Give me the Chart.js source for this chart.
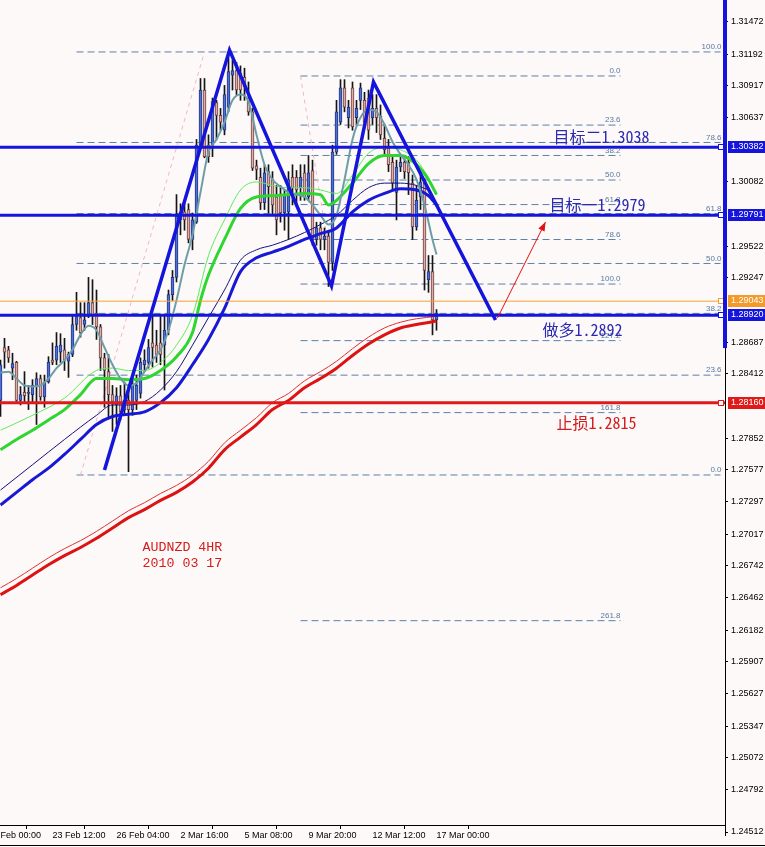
<!DOCTYPE html>
<html>
<head>
<meta charset="utf-8">
<script src="https://cdn.jsdelivr.net/npm/chart.js@4/dist/chart.umd.min.js"></script>
<style>
html,body{margin:0;padding:0;background:#fdf9f9;}
#wrap{width:765px;height:847px;position:relative;}
</style>
</head>
<body>
<div id="wrap"><canvas id="c" width="765" height="847"></canvas></div>
<script>
// ---------------- DATA ----------------
const firstBar = -1; // bar number of first candle (4H bars)
const open = [
1.2818,1.2864,1.2862,1.2846,1.2851,1.2818,1.2825,1.2824,1.2823,1.2830,
1.2837,1.2821,1.2834,1.2853,1.2853,1.2860,1.2862,1.2852,1.2858,1.2884,
1.2890,1.2884,1.2891,1.2903,1.2894,1.2882,1.2855,1.2843,1.2823,1.2814,
1.2822,1.2810,1.2818,1.2810,1.2818,1.2824,1.2849,1.2851,1.2868,1.2866,
1.2868,1.2866,1.2879,1.2910,1.2925,1.2975,1.2982,1.2984,1.2958,1.2973,
1.3040,1.3088,1.3040,1.3040,1.3077,1.3066,1.3053,1.3073,1.3101,1.3105,
1.3103,1.3099,1.3081,1.3069,1.3022,1.3012,1.2990,1.3017,1.3010,1.2995,
1.2997,1.2981,1.2982,1.3012,1.3012,1.3003,1.3016,1.2995,1.3018,1.2958,
1.2968,1.2958,1.2961,1.2938,1.3034,1.3060,1.3090,1.3064,1.3090,1.3064,
1.3079,1.3079,1.3081,1.3064,1.3072,1.3065,1.3046,1.3038,1.3025,1.2999,
1.3021,1.3025,1.3025,1.3007,1.2969,1.2995,1.3007,1.2923,1.2930,1.2888];
const high = [
1.2853,1.2872,1.2865,1.2859,1.2852,1.2830,1.2843,1.2831,1.2836,1.2842,
1.2840,1.2840,1.2856,1.2868,1.2877,1.2876,1.2872,1.2860,1.2891,1.2912,
1.2903,1.2903,1.2925,1.2923,1.2914,1.2884,1.2859,1.2858,1.2831,1.2829,
1.2831,1.2834,1.2831,1.2836,1.2840,1.2855,1.2862,1.2871,1.2892,1.2879,
1.2891,1.2892,1.2914,1.2931,1.2997,1.2989,1.2989,1.2989,1.2981,1.3045,
1.3098,1.3098,1.3049,1.3081,1.3079,1.3072,1.3092,1.3121,1.3114,1.3112,
1.3109,1.3107,1.3095,1.3072,1.3027,1.3020,1.3023,1.3023,1.3017,1.3005,
1.3005,1.3001,1.3017,1.3023,1.3018,1.3023,1.3023,1.3031,1.3027,1.2973,
1.2973,1.2968,1.2966,1.3040,1.3079,1.3097,1.3097,1.3079,1.3095,1.3079,
1.3094,1.3086,1.3088,1.3084,1.3084,1.3075,1.3058,1.3045,1.3032,1.3027,
1.3032,1.3029,1.3030,1.3014,1.3005,1.3014,1.3011,1.2944,1.2944,1.2897];
const low = [
1.2804,1.2846,1.2851,1.2836,1.2817,1.2814,1.2817,1.2810,1.2816,1.2797,
1.2818,1.2812,1.2833,1.2849,1.2849,1.2851,1.2844,1.2838,1.2856,1.2879,
1.2873,1.2879,1.2890,1.2884,1.2871,1.2844,1.2812,1.2803,1.2791,1.2797,
1.2801,1.2805,1.2756,1.2805,1.2810,1.2820,1.2843,1.2846,1.2847,1.2851,
1.2849,1.2827,1.2875,1.2905,1.2921,1.2962,1.2966,1.2955,1.2949,1.2972,
1.3038,1.3029,1.3025,1.3030,1.3045,1.3053,1.3049,1.3069,1.3088,1.3084,
1.3079,1.3079,1.3066,1.3018,1.3010,1.2984,1.2984,1.2981,1.2979,1.2962,
1.2973,1.2966,1.2958,1.2988,1.2988,1.2992,1.2992,1.2992,1.2953,1.2953,
1.2949,1.2949,1.2917,1.2931,1.3032,1.3058,1.3069,1.3055,1.3053,1.3058,
1.3071,1.3055,1.3045,1.3058,1.3051,1.3045,1.3032,1.3017,1.3001,1.2975,
1.3017,1.3011,1.2997,1.2958,1.2966,1.2984,1.2914,1.2912,1.2875,1.2879];
const close = [
1.2849,1.2860,1.2855,1.2850,1.2818,1.2823,1.2822,1.2825,1.2831,1.2837,
1.2821,1.2834,1.2851,1.2851,1.2865,1.2866,1.2853,1.2858,1.2884,1.2891,
1.2877,1.2888,1.2903,1.2892,1.2882,1.2855,1.2844,1.2823,1.2817,1.2822,
1.2808,1.2818,1.2810,1.2831,1.2831,1.2851,1.2853,1.2864,1.2864,1.2858,
1.2858,1.2879,1.2910,1.2925,1.2978,1.2982,1.2975,1.2958,1.2975,1.3040,
1.3088,1.3030,1.3030,1.3078,1.3066,1.3060,1.3084,1.3104,1.3105,1.3088,
1.3088,1.3091,1.3069,1.3020,1.3019,1.2990,1.3016,1.3004,1.2988,1.2975,
1.2981,1.2997,1.3010,1.3003,1.3001,1.3012,1.2995,1.3016,1.2958,1.2968,
1.2958,1.2961,1.2938,1.3034,1.3069,1.3090,1.3073,1.3073,1.3056,1.3072,
1.3090,1.3060,1.3053,1.3072,1.3064,1.3049,1.3036,1.3023,1.3007,1.3021,
1.3025,1.3017,1.3016,1.2969,1.2992,1.3008,1.2931,1.2930,1.2888,1.2894];

// moving averages (bar number, value)
const maFastX = [-1,1,3,5,7,9,11,13,15,17,19,21,23,25,27,29,31,33,35,37,39,41,43,45,47,49,51,53,55,57,59,61,63,65,67,69,71,73,75,77,79,81,83,85,87,89,91,93,95,97,99,101,103,105,107,108];
const maFastY = [1.2842,1.2843,1.2837,1.2831,1.2830,1.2831,1.2837,1.2846,1.2853,1.2862,1.2875,1.2883,1.2879,1.2864,1.2849,1.2837,1.2831,1.2833,1.2843,1.2853,1.2862,1.2879,1.2905,1.2936,1.2962,1.2999,1.3034,1.3045,1.3060,1.3079,1.3084,1.3078,1.3049,1.3023,1.3010,1.3004,1.2999,1.2997,1.2995,1.2988,1.2979,1.2971,1.2979,1.3010,1.3045,1.3064,1.3071,1.3069,1.3058,1.3043,1.3032,1.3023,1.3010,1.2988,1.2958,1.2945];
const maGreenX = [-1,3,7,11,15,19,23,27,31,35,39,43,47,49,51,55,59,63,67,71,75,79,81,83,87,91,95,99,103,106,108];
const maGreenY = [1.2775,1.2784,1.2792,1.2801,1.2810,1.2823,1.2837,1.2837,1.2836,1.2837,1.2844,1.2856,1.2877,1.2905,1.2927,1.2958,1.2985,1.2995,1.2996,1.2997,1.2998,1.2997,1.2988,1.2992,1.3007,1.3024,1.3031,1.3031,1.3023,1.3010,1.2997];
const maGreen2X = [-1,7,15,23,27,31,35,39,43,47,51,55,59,63,67,71,75,79,83,87,91,95,99,103,106];
const maGreen2Y = [1.2792,1.2805,1.2820,1.2844,1.2846,1.2844,1.2844,1.2851,1.2866,1.2892,1.2944,1.2975,1.3001,1.3008,1.3005,1.3003,1.3003,1.3001,1.2998,1.3014,1.3033,1.3038,1.3036,1.3027,1.3012];
const maBlueX = [-1,3,7,11,15,19,23,27,31,35,39,43,47,51,55,59,63,67,71,75,79,83,87,91,95,99,103,106,108];
const maBlueY = [1.2727,1.2738,1.2749,1.2759,1.2771,1.2784,1.2797,1.2804,1.2806,1.2808,1.2816,1.2829,1.2849,1.2871,1.2898,1.2930,1.2942,1.2947,1.2952,1.2958,1.2963,1.2968,1.2982,1.2992,1.2998,1.3002,1.3001,1.2996,1.2988];
const maNavyX = [-1,7,15,23,27,31,35,39,43,47,51,55,59,63,67,71,75,79,83,87,91,95,99,103,106];
const maNavyY = [1.2740,1.2762,1.2784,1.2805,1.2814,1.2814,1.2817,1.2827,1.2843,1.2866,1.2890,1.2914,1.2940,1.2949,1.2953,1.2958,1.2964,1.2971,1.2979,1.2992,1.3003,1.3007,1.3007,1.3005,1.3001];
const maRedX = [-1,3,7,11,15,19,23,27,31,35,39,43,47,51,55,59,63,67,71,75,79,83,87,91,95,99,103,108];
const maRedY = [1.2649,1.2657,1.2666,1.2675,1.2683,1.2690,1.2698,1.2707,1.2716,1.2723,1.2731,1.2738,1.2747,1.2759,1.2775,1.2786,1.2797,1.2810,1.2818,1.2829,1.2837,1.2846,1.2857,1.2867,1.2875,1.2881,1.2884,1.2887];
const maRed2Y = [1.2655,1.2663,1.2672,1.2681,1.2689,1.2696,1.2704,1.2713,1.2722,1.2729,1.2737,1.2744,1.2753,1.2765,1.2781,1.2792,1.2803,1.2816,1.2824,1.2835,1.2843,1.2852,1.2863,1.2873,1.2881,1.2886,1.2889,1.2891];

// drawn objects
const zigzagX = [25, 56.25, 81.75, 92.25, 122.75];
const zigzagY = [1.27574, 1.31228, 1.29175, 1.30950, 1.28879];
const arrowX = [123.25, 135.25];
const arrowY = [1.28897, 1.29732];
const hLevels = [1.30382, 1.29791, 1.29043, 1.28920, 1.28160];
const hLabels = ['1.30382', '1.29791', '1.29043', '1.28920', '1.28160'];
const vLineBottom = 1.28635;

const fib1Pct = [0, 23.6, 38.2, 50.0, 61.8, 78.6, 100.0];
const fib1Low = 1.27531, fib1High = 1.31211;
const fib1Span = [18, 179];
const fib1Diag = [19, 50];
const fib2Pct = [0, 23.6, 38.2, 50.0, 61.8, 78.6, 100.0, 127.2, 161.8, 261.8];
const fib2Zero = 1.31002, fib2Hundred = 1.29192;
const fib2Span = [74, 154];
const fib2Diag = [74, 82.5];

const noteText = ['目标二1.3038', '目标一1.2979', '做多1.2892', '止损1.2815'];
const noteX = [137.25, 136.25, 134.5, 138];
const noteY = [1.3047, 1.2988, 1.2879, 1.2798];
const titleText = ['AUDNZD 4HR', '2010 03 17'];
const titleX = [34.5, 34.5];
const titleY = [1.2690, 1.2676];

// axis ticks
const xTickBars = [-1, 12, 28, 44, 60, 76, 92, 108];
const xTickLabels = ['Feb 00:00', '23 Feb 12:00', '26 Feb 04:00', '2 Mar 16:00', '5 Mar 08:00', '9 Mar 20:00', '12 Mar 12:00', '17 Mar 00:00'];
const yTickVals = [1.31472, 1.31192, 1.30917, 1.30637, 1.30082, 1.29522, 1.29247, 1.28687, 1.28412, 1.27852, 1.27577, 1.27297, 1.27017, 1.26742, 1.26462, 1.26182, 1.25907, 1.25627, 1.25347, 1.25072, 1.24792];
const yBottomLabel = '1.24512';

const X_MIN = -1.125, X_MAX = 180.125;
const Y_MIN = 1.24486, Y_MAX = 1.31663;

// ---------------- BUILD ----------------
const bars = open.map((o, k) => firstBar + k);
const wickData = bars.map((b, k) => ({x: b, y: [low[k], high[k]]}));
const bodyData = bars.map((b, k) => ({x: b, y: [open[k], close[k]]}));
const bodyFill = bars.map((b, k) => close[k] >= open[k] ? '#4b72d2' : '#e2aca6');
const bodyEdge = bars.map((b, k) => close[k] >= open[k] ? '#243385' : '#6b4242');
const pts = (xs, ys) => xs.map((x, k) => ({x: x, y: ys[k]}));

function fibSet(pcts, valFn, span) {
  const out = [];
  pcts.forEach(p => {
    const v = valFn(p);
    out.push({x: span[0], y: v}, {x: span[1], y: v}, {x: span[1], y: null});
  });
  return out;
}
const fib1Val = p => fib1Low + p / 100 * (fib1High - fib1Low);
const fib2Val = p => fib2Zero - p / 100 * (fib2Zero - fib2Hundred);

const hColors = ['#1414dc', '#1414dc', '#f3a033', '#1414dc', '#e01a1a'];
const hWidths = [3, 3, 1, 3, 3];
const hBoxColors = ['#1414dc', '#1414dc', '#f39a2a', '#1414dc', '#e01a1a'];

const lineDefaults = {type: 'line', pointRadius: 0, fill: false, spanGaps: false};
const maLine = (xs, ys, color, w, order) => Object.assign({}, lineDefaults, {
  data: pts(xs, ys), borderColor: color, borderWidth: w, tension: 0.4,
  cubicInterpolationMode: 'monotone', order: order
});

const datasets = [
  Object.assign({}, lineDefaults, {data: fibSet(fib1Pct, fib1Val, fib1Span), borderColor: '#5a80a8', borderWidth: 1, borderDash: [7, 4], order: 30}),
  Object.assign({}, lineDefaults, {data: fibSet(fib2Pct, fib2Val, fib2Span), borderColor: '#5a80a8', borderWidth: 1, borderDash: [7, 4], order: 29}),
  Object.assign({}, lineDefaults, {data: [{x: fib1Diag[0], y: fib1Low}, {x: fib1Diag[1], y: fib1High}], borderColor: '#f2b6c6', borderWidth: 1, borderDash: [4, 4], order: 28}),
  Object.assign({}, lineDefaults, {data: [{x: fib2Diag[0], y: fib2Zero}, {x: fib2Diag[1], y: fib2Hundred}], borderColor: '#f2b6c6', borderWidth: 1, borderDash: [4, 4], order: 28}),
  {type: 'bar', data: wickData, backgroundColor: '#151515', borderWidth: 0, barThickness: 1, grouped: false, order: 20},
  {type: 'bar', data: bodyData, backgroundColor: bodyFill, borderColor: bodyEdge, borderWidth: 1, borderSkipped: false, barThickness: 3, minBarLength: 1, grouped: false, order: 19},
  maLine(maRedX, maRed2Y, '#e03030', 1, 15),
  maLine(maRedX, maRedY, '#dd1212', 3, 14),
  maLine(maNavyX, maNavyY, '#12127e', 1, 13),
  maLine(maBlueX, maBlueY, '#1717d6', 3, 12),
  maLine(maGreen2X, maGreen2Y, '#5cec5c', 1, 11),
  maLine(maGreenX, maGreenY, '#2fd62f', 3, 10),
  maLine(maFastX, maFastY, '#6d9ea8', 2, 9)
];
hLevels.forEach((v, k) => {
  datasets.push(Object.assign({}, lineDefaults, {data: [{x: X_MIN, y: v}, {x: X_MAX, y: v}], borderColor: hColors[k], borderWidth: hWidths[k], order: 5}));
});
datasets.push(Object.assign({}, lineDefaults, {data: pts(zigzagX, zigzagY), borderColor: '#1414dc', borderWidth: 3.5, tension: 0, order: 3, borderJoinStyle: 'miter'}));
datasets.push(Object.assign({}, lineDefaults, {data: pts(arrowX, arrowY), borderColor: '#e01010', borderWidth: 1, tension: 0, order: 2}));

const bg = {
  id: 'bg',
  beforeDraw(chart) {
    const c = chart.ctx;
    c.save(); c.fillStyle = '#fdf9f9'; c.fillRect(0, 0, chart.width, chart.height); c.restore();
  }
};

const overlay = {
  id: 'overlay',
  afterDatasetsDraw(chart) {
    const c = chart.ctx, xs = chart.scales.x, ys = chart.scales.y;
    c.save();
    // fib labels
    c.font = '8px "Liberation Sans", Arial, sans-serif';
    c.fillStyle = '#557aa0';
    c.textAlign = 'right';
    c.textBaseline = 'bottom';
    fib1Pct.forEach(p => c.fillText(p.toFixed(1), xs.getPixelForValue(fib1Span[1]) + 1, ys.getPixelForValue(fib1Val(p)) - 1));
    fib2Pct.forEach(p => c.fillText(p.toFixed(1), xs.getPixelForValue(fib2Span[1]), ys.getPixelForValue(fib2Val(p)) - 1));
    // arrow head
    const x0 = xs.getPixelForValue(arrowX[0]), y0 = ys.getPixelForValue(arrowY[0]);
    const x1 = xs.getPixelForValue(arrowX[1]), y1 = ys.getPixelForValue(arrowY[1]);
    const a = Math.atan2(y1 - y0, x1 - x0), L = 9, W = 3.5;
    c.fillStyle = '#e01010';
    c.beginPath();
    c.moveTo(x1, y1);
    c.lineTo(x1 - L * Math.cos(a) + W * Math.sin(a), y1 - L * Math.sin(a) - W * Math.cos(a));
    c.lineTo(x1 - L * Math.cos(a) - W * Math.sin(a), y1 - L * Math.sin(a) + W * Math.cos(a));
    c.closePath(); c.fill();
    // notes
    c.textAlign = 'left'; c.textBaseline = 'middle';
    c.font = '16px "Noto Sans Mono CJK SC", "Noto Sans CJK SC", sans-serif';
    const noteColors = ['#2a2ab2', '#2a2ab2', '#2a2ab2', '#d41c1c'];
    noteText.forEach((t, k) => { c.fillStyle = noteColors[k]; c.fillText(t, xs.getPixelForValue(noteX[k]), ys.getPixelForValue(noteY[k])); });
    c.font = '13.3px "Liberation Mono", "DejaVu Sans Mono", monospace';
    c.fillStyle = '#d41c1c';
    titleText.forEach((t, k) => c.fillText(t, xs.getPixelForValue(titleX[k]), ys.getPixelForValue(titleY[k])));
    c.restore();
  },
  afterDraw(chart) {
    const c = chart.ctx, ys = chart.scales.y, ar = chart.chartArea;
    c.save();
    const axX = ys.left;
    // end markers of horizontal lines
    hLevels.forEach((v, k) => {
      const py = Math.round(ys.getPixelForValue(v));
      c.fillStyle = '#ffffff'; c.fillRect(axX - 6, py - 2, 4, 4);
      c.strokeStyle = hColors[k]; c.lineWidth = 1; c.strokeRect(axX - 6.5, py - 2.5, 5, 5);
    });
    // axis line continuation + bottom label
    c.fillStyle = '#000';
    c.fillRect(axX, ar.bottom, 1, 11);
    c.fillRect(axX, ar.bottom + 7, 3, 1);
    c.font = '9px "Liberation Sans", Arial, sans-serif';
    c.textAlign = 'left'; c.textBaseline = 'middle';
    c.fillText(yBottomLabel, axX + 6, ar.bottom + 7);
    // highlighted price boxes
    hLevels.forEach((v, k) => {
      const py = Math.round(ys.getPixelForValue(v));
      c.fillStyle = hBoxColors[k];
      c.fillRect(axX + 3, py - 6, chart.width - axX - 3, 12);
      c.fillStyle = '#ffffff';
      c.fillText(hLabels[k], axX + 6, py);
    });
    // vertical blue line on the right
    c.fillStyle = '#1414dc';
    c.fillRect(axX - 2, 0, 4, ys.getPixelForValue(vLineBottom));
    // window bottom border
    c.fillStyle = '#000';
    c.fillRect(0, chart.height - 2, chart.width, 1);
    c.restore();
  }
};

Chart.defaults.font.family = '"Liberation Sans", Arial, sans-serif';
Chart.defaults.font.size = 9;
Chart.defaults.color = '#000';

new Chart(document.getElementById('c'), {
  type: 'bar',
  data: {datasets: datasets},
  options: {
    responsive: false,
    animation: false,
    events: [],
    layout: {padding: 0},
    plugins: {legend: {display: false}, tooltip: {enabled: false}},
    scales: {
      x: {
        type: 'linear', position: 'bottom', min: X_MIN, max: X_MAX, offset: false, bounds: 'data',
        grid: {display: true, drawOnChartArea: false, drawTicks: true, tickLength: 4, color: '#000'},
        border: {display: true, color: '#000', width: 1},
        ticks: {align: 'start', padding: 1, autoSkip: false, maxRotation: 0, color: '#000', font: {size: 9},
          callback: (v) => { const k = xTickBars.indexOf(v); return k >= 0 ? xTickLabels[k] : ''; }},
        afterBuildTicks: s => { s.ticks = xTickBars.map(v => ({value: v})); },
        afterFit: s => { s.height = 22; s.paddingLeft = 0; s.paddingRight = 0; }
      },
      y: {
        type: 'linear', position: 'right', min: Y_MIN, max: Y_MAX, bounds: 'data', beginAtZero: false,
        grid: {display: true, drawOnChartArea: false, drawTicks: true, tickLength: 3, color: '#000'},
        border: {display: true, color: '#000', width: 1},
        ticks: {padding: 3, autoSkip: false, color: '#000', font: {size: 9}, callback: v => Number(v).toFixed(5)},
        afterBuildTicks: s => { s.ticks = yTickVals.map(v => ({value: v})); },
        afterFit: s => { s.width = 40; s.paddingTop = 0; s.paddingBottom = 0; }
      }
    }
  },
  plugins: [bg, overlay]
});
</script>
</body>
</html>
